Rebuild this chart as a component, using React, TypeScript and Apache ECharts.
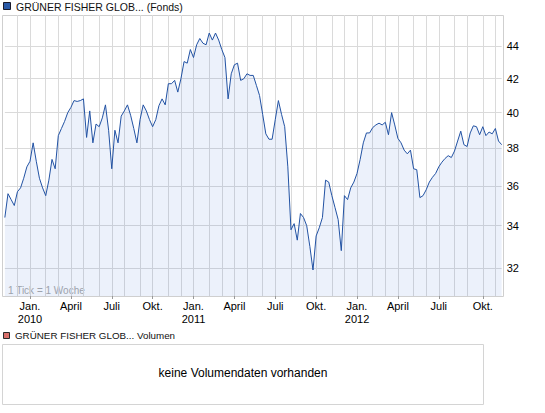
import React, { useEffect, useRef } from "react";
import * as echarts from "echarts";

// Weekly closing prices (one point per week, Fridays starting 6 Nov 2009)
const prices2009 = [34.4, 35.6, 35.3, 35.0, 35.7, 35.9, 36.4, 37.0];
const prices2010 = [
  37.3, 38.3, 37.3, 36.4, 35.9, 35.5, 36.3, 37.4, 36.9, 38.7,
  39.1, 39.5, 40.0, 40.3, 40.7, 40.65, 40.7, 40.8, 38.6, 40.1,
  38.3, 39.35, 39.2, 39.7, 40.45, 39.0, 36.9, 39.0, 38.3, 39.8,
  40.1, 40.45, 39.85, 39.1, 38.3, 39.6, 40.45, 40.1, 39.6, 39.2,
  39.6, 40.4, 40.8, 40.45, 41.7, 41.7, 41.9, 41.2, 42.0, 43.05,
  42.95, 43.8, 43.3,
];
const prices2011 = [
  44.1, 44.5, 44.2, 44.1, 44.85, 44.4, 44.85, 44.4, 43.8, 43.3,
  40.8, 42.3, 42.85, 42.95, 41.9, 42.0, 42.3, 42.2, 42.2, 41.6,
  41.0, 39.9, 38.8, 38.5, 38.5, 39.6, 40.7, 39.9, 39.2, 37.0,
  33.8, 34.1, 33.3, 34.6, 34.4, 34.0, 33.0, 31.9, 33.5, 33.9,
  34.4, 36.3, 36.2, 35.5, 34.9, 34.3, 32.8, 35.5, 35.3, 35.9,
  36.2, 36.65,
];
const prices2012 = [
  37.4, 38.3, 38.85, 38.85, 39.15, 39.3, 39.4, 39.3, 39.45, 38.75,
  40.0, 39.3, 38.55, 38.3, 37.9, 37.7, 37.9, 36.9, 36.85, 35.4,
  35.5, 35.8, 36.2, 36.45, 36.65, 37.0, 37.25, 37.45, 37.6, 37.5,
  37.85, 38.4, 38.95, 38.2, 38.1, 38.85, 39.25, 39.2, 38.75, 39.2,
  38.7, 38.9, 38.8, 39.1, 38.4, 38.2,
];

const firstWeek = { year: 2009, month: 10, day: 6 };
const yTickValues = [32, 34, 36, 38, 40, 42, 44];
const yMinValue = 30.73;
const yMaxValue = 46.03;
const monthNames = ["Jan.", "", "", "April", "", "", "Juli", "", "", "Okt.", "", ""];
const fundTitle = "GRÜNER FISHER GLOB... (Fonds)";
const volumeTitle = "GRÜNER FISHER GLOB... Volumen";
const volumeEmpty = "keine Volumendaten vorhanden";
const tickNote = "1 Tick = 1 Woche";

const FONT = "'Liberation Sans', Arial, Helvetica, sans-serif";

export default function App() {
  const ref = useRef<HTMLDivElement>(null);

  useEffect(() => {
    document.body.style.margin = "0";
    if (!ref.current) return;
    const chart = echarts.init(ref.current, undefined, { renderer: "svg" });

    const prices = [...prices2009, ...prices2010, ...prices2011, ...prices2012];
    const weeks = prices.map(
      (_, i) => new Date(firstWeek.year, firstWeek.month, firstWeek.day + 7 * i)
    );
    const cats = weeks.map(
      (d) => `${d.getFullYear()}-${d.getMonth() + 1}-${d.getDate()}`
    );
    const sundays = weeks.map(
      (d) => new Date(d.getFullYear(), d.getMonth(), d.getDate() + 2)
    );
    const monthStart = sundays.map((s) => s.getDate() <= 7);
    const quarterStart = sundays.map(
      (s, i) => monthStart[i] && s.getMonth() % 3 === 0
    );
    const logTicks = yTickValues.map((v) => Math.log(v));

    const gridColor = "#dadada";

    chart.setOption({
      animation: false,
      textStyle: { fontFamily: FONT },
      grid: { left: 4.85, top: 15, width: 496.8, height: 281, containLabel: false },
      xAxis: {
        type: "category",
        data: cats,
        boundaryGap: false,
        axisLine: { show: false },
        axisTick: {
          show: true,
          interval: (i: number) => quarterStart[i],
          length: 3,
          lineStyle: { color: "#999" },
        },
        axisLabel: {
          interval: (i: number) => quarterStart[i],
          formatter: (_v: string, i: number) => {
            const s = sundays[i];
            const m = monthNames[s.getMonth()];
            return s.getMonth() === 0 ? `${m}\n${s.getFullYear()}` : m;
          },
          fontSize: 11,
          fontFamily: FONT,
          color: "#000",
          margin: 4,
          lineHeight: 12.5,
        },
        splitLine: {
          show: true,
          interval: (i: number) => monthStart[i],
          lineStyle: { color: gridColor, width: 1 },
        },
      },
      yAxis: {
        type: "value",
        position: "right",
        min: Math.log(yMinValue),
        max: Math.log(yMaxValue),
        axisLine: { show: false },
        axisTick: { show: false, customValues: logTicks },
        axisLabel: {
          customValues: logTicks,
          formatter: (v: number) => String(Math.round(Math.exp(v))),
          fontSize: 11,
          fontFamily: FONT,
          color: "#000",
          margin: 5,
        },
        splitLine: { show: true, lineStyle: { color: gridColor, width: 1 } },
      },
      series: [
        {
          type: "line",
          data: prices.map((p) => Math.log(p)),
          symbol: "none",
          lineStyle: { color: "#2252a3", width: 1 },
          areaStyle: { color: "rgba(30, 90, 210, 0.12)", origin: "start" },
        },
      ],
      graphic: [
        {
          type: "rect",
          shape: { x: 2.5, y: 15.5, width: 501, height: 281 },
          style: { fill: "none", stroke: "#cfcfcf", lineWidth: 1 },
          silent: true,
        },
        {
          type: "text",
          x: 8,
          y: 290,
          style: {
            text: tickNote,
            fontSize: 10,
            fontFamily: FONT,
            fill: "#aaaaaa",
            verticalAlign: "middle",
          },
        },
        {
          type: "rect",
          shape: { x: 3.5, y: 2.5, width: 7, height: 7 },
          style: { fill: "#2a5aa8", stroke: "#1a1a2a", lineWidth: 1 },
        },
        {
          type: "text",
          x: 16,
          y: 6.5,
          style: {
            text: fundTitle,
            fontSize: 10.5,
            fontFamily: FONT,
            fill: "#111",
            verticalAlign: "middle",
          },
        },
        {
          type: "rect",
          shape: { x: 3.5, y: 332.5, width: 6, height: 6 },
          style: { fill: "#d9706b", stroke: "#2a2a2a", lineWidth: 1 },
        },
        {
          type: "text",
          x: 15,
          y: 335.5,
          style: {
            text: volumeTitle,
            fontSize: 9.8,
            fontFamily: FONT,
            fill: "#111",
            verticalAlign: "middle",
          },
        },
        {
          type: "rect",
          shape: { x: 2.5, y: 344.5, width: 481, height: 60 },
          style: { fill: "none", stroke: "#d4d4d4", lineWidth: 1 },
        },
        {
          type: "text",
          x: 243,
          y: 373,
          style: {
            text: volumeEmpty,
            fontSize: 12,
            fontFamily: FONT,
            fill: "#000",
            align: "center",
            verticalAlign: "middle",
          },
        },
      ],
    });

    return () => chart.dispose();
  }, []);

  return <div ref={ref} style={{ width: 545, height: 413 }} />;
}
